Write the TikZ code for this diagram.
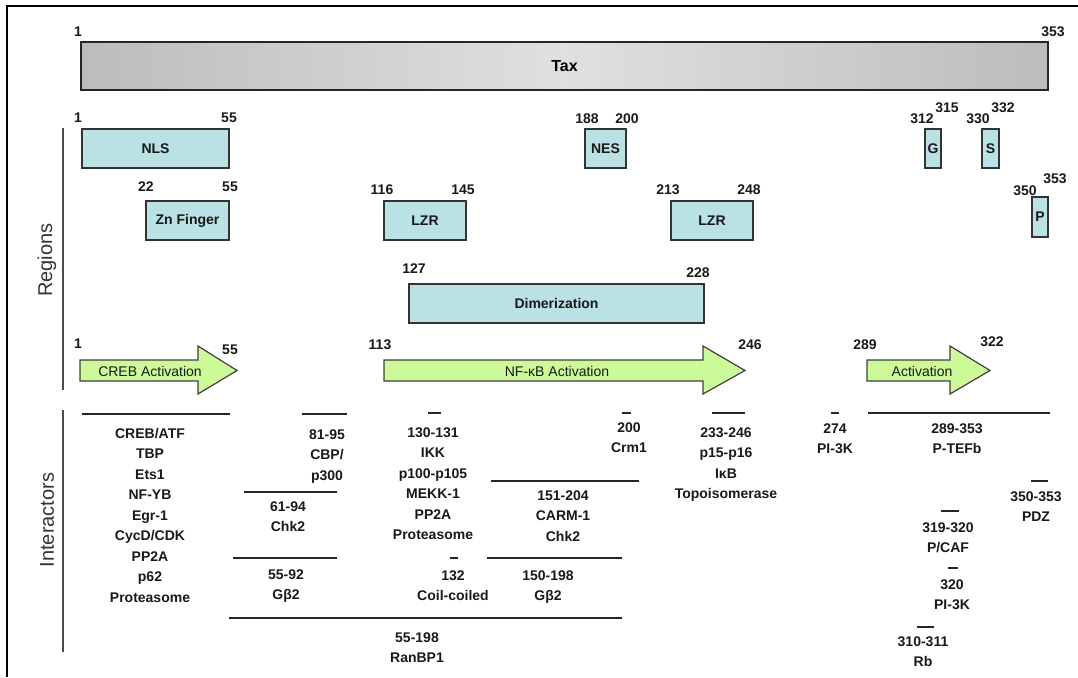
\documentclass[tikz,border=0pt]{standalone}
\usepackage{fontspec}
\setmainfont{Liberation Sans}
\definecolor{boxcyan}{RGB}{186,225,228}
\definecolor{argreen}{RGB}{204,250,152}
\definecolor{taxend}{RGB}{188,188,188}
\definecolor{taxmid}{RGB}{224,224,224}
\newcommand{\ftstrut}{\rule{0pt}{11pt}}
\begin{document}
\begin{tikzpicture}[x=1pt,y=-1pt,
  num/.style={font=\fontsize{14}{16}\selectfont\bfseries, inner sep=0pt, text=black!90},
  regbox/.style={draw=black!80, line width=1.5pt, fill=boxcyan, font=\fontsize{14}{16}\selectfont\bfseries, inner sep=0pt, text=black!90},
  arrowbody/.style={draw=black!75, line width=1.2pt, fill=argreen, line join=miter},
  arrowtxt/.style={font=\fontsize{14}{16}\selectfont, inner sep=0pt, text=black!90},
  itext/.style={font=\fontsize{14}{20.5}\selectfont\bfseries, align=center, anchor=north, inner sep=0pt, text=black!90},
  bar/.style={line width=2pt, black!85},
  axisline/.style={line width=1.5pt, black!70},
  side/.style={font=\fontsize{20}{24}\selectfont, rotate=90, inner sep=0pt, text=black!80}
]
\useasboundingbox (0,0) rectangle (1078,677);
% frame
\draw[line width=2pt] (7,677) -- (7,6.5) -- (1078,6.5);

% Tax bar
\node[draw=black!85, line width=1.5pt, minimum width=967pt, minimum height=48pt,
      left color=taxend, right color=taxend, middle color=taxmid,
      font=\fontsize{16}{18}\selectfont\bfseries, inner sep=0pt] (tax) at (564.5,66) {Tax};
\node[num] (t1) at (78,32) {1};
\node[num] (t353) at (1053,32) {353};

% side labels
\draw[axisline] (63,128) -- (63,390);
\draw[axisline] (63,410) -- (63,652);
\node[side] (regions) at (47,260) {Regions};
\node[side] (interactors) at (47,520) {Interactors};

% region boxes
\node[regbox, minimum width=147pt, minimum height=39pt] (nls) at (155.5,148.5) {NLS};
\node[num] (nls1) at (78,118) {1};
\node[num] (nls55) at (229,118) {55};

\node[regbox, minimum width=83pt, minimum height=39pt] (zn) at (187.5,220.5) {Zn Finger};
\node[num] (zn22) at (146,187) {22};
\node[num] (zn55) at (230,187) {55};

\node[regbox, minimum width=82pt, minimum height=39pt] (lzr1) at (425,220.5) {LZR};
\node[num] (l116) at (382,190) {116};
\node[num] (l145) at (463,190) {145};

\node[regbox, minimum width=41pt, minimum height=39pt] (nes) at (605.5,148.5) {NES};
\node[num] (n188) at (587,119) {188};
\node[num] (n200) at (627,119) {200};

\node[regbox, minimum width=82pt, minimum height=39pt] (lzr2) at (712,220.5) {LZR};
\node[num] (l213) at (668,190) {213};
\node[num] (l248) at (749,190) {248};

\node[regbox, minimum width=295pt, minimum height=39pt] (dim) at (556.5,303.5) {Dimerization};
\node[num] (d127) at (414,269) {127};
\node[num] (d228) at (698,273) {228};

\node[regbox, minimum width=16pt, minimum height=39pt] (gbox) at (933,148.5) {G};
\node[num] (g312) at (922,119) {312};
\node[num] (g315) at (947,108) {315};

\node[regbox, minimum width=17pt, minimum height=39pt] (sbox) at (990.5,148.5) {S};
\node[num] (s330) at (978,119) {330};
\node[num] (s332) at (1003,108) {332};

\node[regbox, minimum width=16pt, minimum height=40pt] (pbox) at (1040,217) {P};
\node[num] (p350) at (1025,191) {350};
\node[num] (p353) at (1055,179) {353};

% activation arrows
\draw[arrowbody] (80,360) -- (198,360) -- (198,346) -- (237,370.5) -- (198,394) -- (198,381) -- (80,381) -- cycle;
\node[arrowtxt] (crebact) at (150,371) {CREB Activation};
\node[num] (a1) at (78,344) {1};
\node[num] (a55) at (230,350) {55};

\draw[arrowbody] (384,360) -- (703,360) -- (703,346) -- (745,370.5) -- (703,394) -- (703,381) -- (384,381) -- cycle;
\node[arrowtxt] (nfkbact) at (557,371) {NF-κB Activation};
\node[num] (a113) at (380,345) {113};
\node[num] (a246) at (750,345) {246};

\draw[arrowbody] (867,360) -- (950,360) -- (950,346) -- (990,370.5) -- (950,394) -- (950,381) -- (867,381) -- cycle;
\node[arrowtxt] (act) at (922,371) {Activation};
\node[num] (a289) at (865,345) {289};
\node[num] (a322) at (992,342) {322};

% interactor bars
\draw[bar] (82,414) -- (230,414);
\draw[bar] (302,414) -- (347,414);
\draw[bar] (244,492) -- (337,492);
\draw[bar] (233,558) -- (337,558);
\draw[bar] (229,618) -- (622,618);
\draw[bar] (428,413) -- (441,413);
\draw[bar] (622,413) -- (631,413);
\draw[bar] (491,481) -- (639,481);
\draw[bar] (450,558) -- (458,558);
\draw[bar] (487,558) -- (622,558);
\draw[bar] (712,413) -- (745,413);
\draw[bar] (831,413) -- (839,413);
\draw[bar] (868,413) -- (1050,413);
\draw[bar] (1031,481) -- (1048,481);
\draw[bar] (941,511) -- (959,511);
\draw[bar] (948,568) -- (958,568);
\draw[bar] (917,627) -- (934,627);

% interactor texts
\node[itext] (creb) at (150,427) {\ftstrut CREB/ATF\\TBP\\Ets1\\NF-YB\\Egr-1\\CycD/CDK\\PP2A\\p62\\Proteasome};
\node[itext] (cbp) at (327,428) {\ftstrut 81-95\\CBP/\\p300};
\node[itext] (chkA) at (288,500) {\ftstrut 61-94\\Chk2};
\node[itext] (gbA) at (286,568) {\ftstrut 55-92\\Gβ2};
\node[itext] (ran) at (417,631) {\ftstrut 55-198\\RanBP1};
\node[itext] (ikk) at (433,426) {\ftstrut 130-131\\IKK\\p100-p105\\MEKK-1\\PP2A\\Proteasome};
\node[itext] (crm) at (629,421) {\ftstrut 200\\Crm1};
\node[itext] (carm) at (563,489) {\ftstrut 151-204\\CARM-1\\Chk2};
\node[itext] (coil) at (453,569) {\ftstrut 132\\Coil-coiled};
\node[itext] (gbB) at (548,569) {\ftstrut 150-198\\Gβ2};
\node[itext] (ikb) at (726,426) {\ftstrut 233-246\\p15-p16\\IκB\\Topoisomerase};
\node[itext] (pi3kA) at (835,422) {\ftstrut 274\\PI-3K};
\node[itext] (ptefb) at (957,422) {\ftstrut 289-353\\P-TEFb};
\node[itext] (pdz) at (1036,490) {\ftstrut 350-353\\PDZ};
\node[itext] (pcaf) at (948,521) {\ftstrut 319-320\\P/CAF};
\node[itext] (pi3kB) at (952,578) {\ftstrut 320\\PI-3K};
\node[itext] (rb) at (923,635) {\ftstrut 310-311\\Rb};
\end{tikzpicture}
\end{document}
